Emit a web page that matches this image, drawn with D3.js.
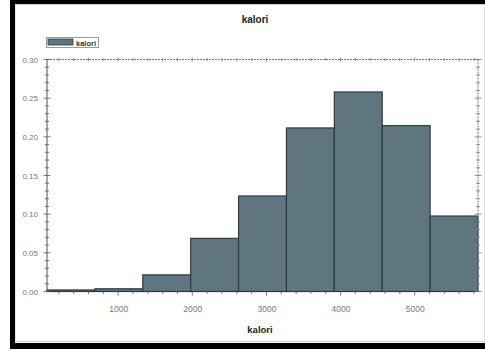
<!DOCTYPE html>
<html><head><meta charset="utf-8">
<script src="https://cdn.jsdelivr.net/npm/d3@7"></script>
<style>html,body{margin:0;padding:0;background:#fff;}svg{display:block;}</style>
</head><body>
<svg id="c" width="485" height="351"></svg>
<script>
const binStarts = [40, 686, 1332, 1978, 2624, 3270, 3916, 4562, 5208];
const binEnds   = [686, 1332, 1978, 2624, 3270, 3916, 4562, 5208, 5854];
const density   = [0.002, 0.0035, 0.0215, 0.0687, 0.1235, 0.2115, 0.258, 0.2145, 0.0976];
const xTicks = [1000, 2000, 3000, 4000, 5000];
const yTicks = [0.00, 0.05, 0.10, 0.15, 0.20, 0.25, 0.30];
const titleText = "kalori";
const xLabel = "kalori";
const legendLabel = "kalori";

const svg = d3.select("#c");
const W = 485, H = 351;
const L = 47, R = 478, T = 59.5, B = 291.5;
const fill = "#5f7680", stroke = "#2e3c42";
const font = "Liberation Sans, Arial, sans-serif";

// frame
svg.append("rect").attr("x",0).attr("y",0).attr("width",W).attr("height",H).attr("fill","#fff");
svg.append("rect").attr("x",15).attr("y",4.5).attr("width",W-15).attr("height",337).attr("fill","none").attr("stroke","#d0d0d0").attr("stroke-width",1);
svg.append("rect").attr("x",10).attr("y",0).attr("width",5).attr("height",349).attr("fill","#000");
svg.append("rect").attr("x",10).attr("y",0).attr("width",W-10).attr("height",4).attr("fill","#000");
svg.append("rect").attr("x",10).attr("y",343).attr("width",W-10).attr("height",6).attr("fill","#000");

const x = d3.scaleLinear().domain([40, 5854]).range([L, R]);
const y = d3.scaleLinear().domain([0, 0.30]).range([B, T]);

const bins = binStarts.map((s,i)=>({x0:s, x1:binEnds[i], v:density[i]}));
svg.append("g").selectAll("rect").data(bins).join("rect")
  .attr("x", d=>x(d.x0)).attr("y", d=>y(d.v))
  .attr("width", d=>x(d.x1)-x(d.x0)).attr("height", d=>y(0)-y(d.v))
  .attr("fill", fill).attr("stroke", stroke).attr("stroke-width", 1.2);

// plot border lines
const axisColor = "#555";
svg.append("line").attr("x1",L).attr("x2",L).attr("y1",T).attr("y2",B).attr("stroke",axisColor);
svg.append("line").attr("x1",R).attr("x2",R).attr("y1",T).attr("y2",B).attr("stroke","#777").attr("stroke-dasharray","2,1");
svg.append("line").attr("x1",L).attr("x2",R).attr("y1",T).attr("y2",T).attr("stroke","#777").attr("stroke-dasharray","2,1");
svg.append("line").attr("x1",L).attr("x2",R).attr("y1",B).attr("y2",B).attr("stroke","#333").attr("stroke-width",1.2);

// minor ticks
const yMinor = d3.range(0, 0.3001, 0.01);
const xMinor = d3.range(200, 5854, 200);
const tg = svg.append("g").attr("stroke","#555").attr("stroke-width",0.8);
yMinor.forEach(v=>{
  const major = Math.abs(Math.round(v*100)%5)===0;
  const h = major?3.5:2;
  tg.append("line").attr("x1",L-h).attr("x2",L+h).attr("y1",y(v)).attr("y2",y(v));
  tg.append("line").attr("x1",R-h).attr("x2",R+h).attr("y1",y(v)).attr("y2",y(v)).attr("stroke","#777");
});
xMinor.forEach(v=>{
  const major = v%1000===0;
  tg.append("line").attr("x1",x(v)).attr("x2",x(v)).attr("y1",B).attr("y2",B+(major?4:2.5));
  tg.append("line").attr("x1",x(v)).attr("x2",x(v)).attr("y1",T-(major?2:1.5)).attr("y2",T+(major?2:1.5)).attr("stroke","#777");
});

// axes labels via d3 axes
const yAxis = d3.axisLeft(y).tickValues(yTicks).tickFormat(d3.format(".2f")).tickSize(0).tickPadding(9);
const ya = svg.append("g").attr("transform",`translate(${L},0)`).call(yAxis);
ya.select(".domain").remove();
ya.selectAll("text").attr("font-family",font).attr("font-size",8).attr("fill","#777");

const xAxis = d3.axisBottom(x).tickValues(xTicks).tickFormat(d3.format("d")).tickSize(0).tickPadding(14);
const xa = svg.append("g").attr("transform",`translate(0,${B})`).call(xAxis);
xa.select(".domain").remove();
xa.selectAll("text").attr("font-family",font).attr("font-size",8.5).attr("fill","#777");

// title & axis label
svg.append("text").attr("x",255).attr("y",23).attr("text-anchor","middle")
  .attr("font-family","Liberation Sans Narrow, Liberation Sans, sans-serif").attr("font-weight","bold").attr("font-size",10).attr("fill","#222").text(titleText);
svg.append("text").attr("x",260).attr("y",333).attr("text-anchor","middle")
  .attr("font-family","Liberation Sans Narrow, Liberation Sans, sans-serif").attr("font-weight","bold").attr("font-size",9.5).attr("fill","#222").text(xLabel);

// legend
const lg = svg.append("g");
lg.append("rect").attr("x",46.5).attr("y",37.5).attr("width",52).attr("height",10).attr("fill","#fff").attr("stroke","#999").attr("stroke-width",1);
lg.append("rect").attr("x",48).attr("y",39).attr("width",25).attr("height",6).attr("fill",fill).attr("stroke",stroke).attr("stroke-width",0.8);
lg.append("text").attr("x",76).attr("y",45.5).attr("font-family","Liberation Sans Narrow, Liberation Sans, sans-serif").attr("font-weight","bold").attr("font-size",7.5).attr("fill","#333").text(legendLabel);
</script>
</body></html>
